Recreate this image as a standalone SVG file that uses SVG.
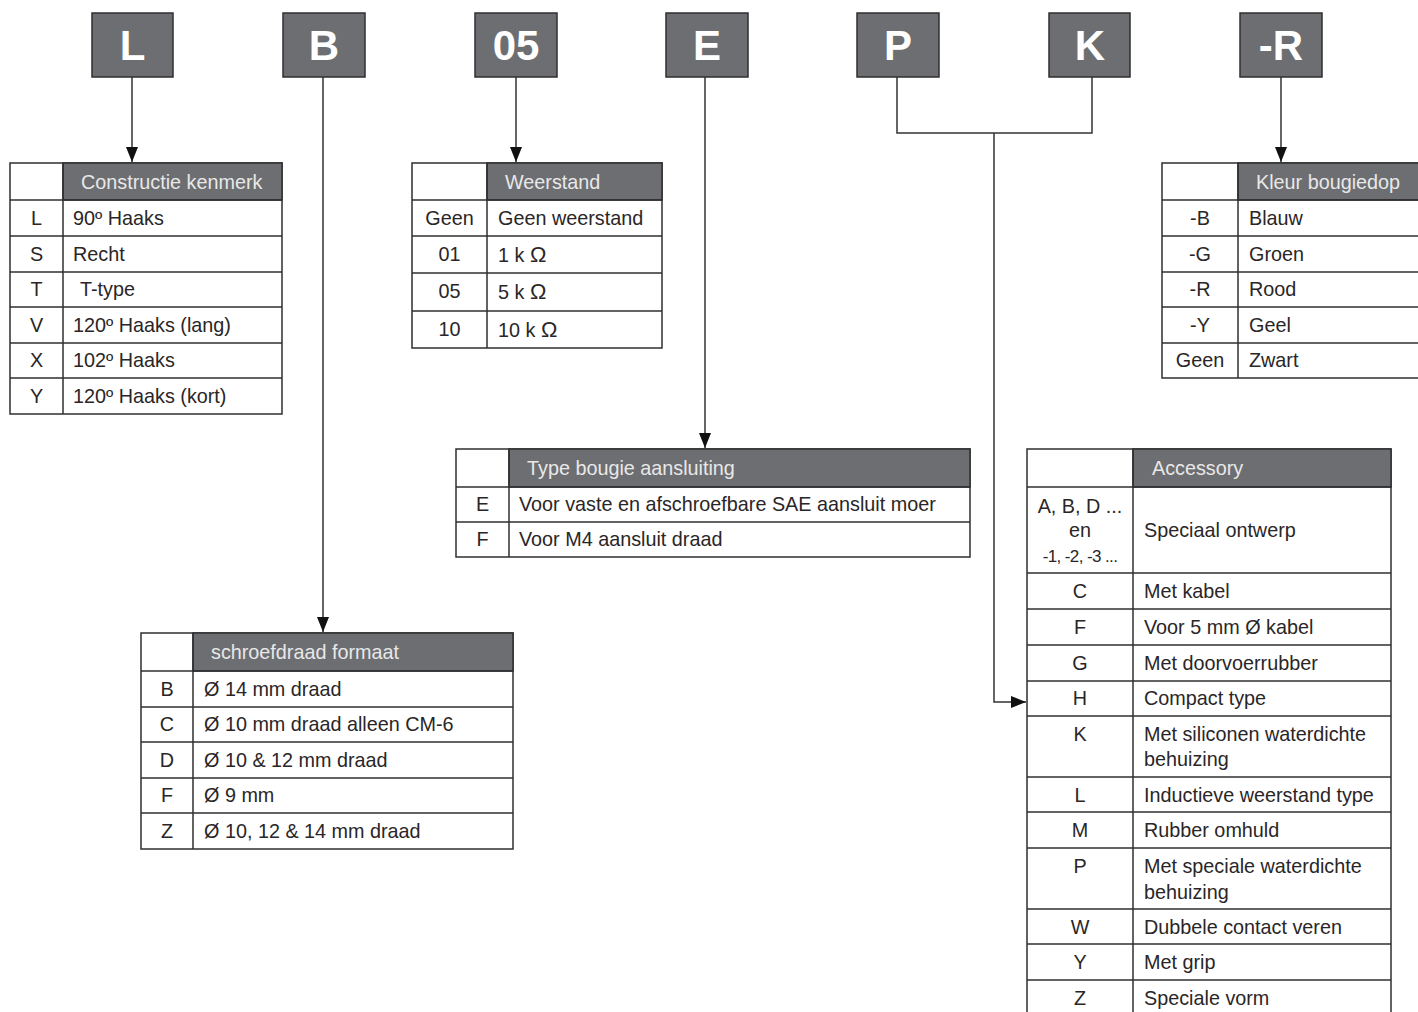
<svg xmlns="http://www.w3.org/2000/svg" width="1418" height="1012" viewBox="0 0 1418 1012">
<style>
.box{fill:#6d6e71;stroke:#2f2f30;stroke-width:1.5}
.bl{font-family:"Liberation Sans",Arial,sans-serif;font-weight:bold;font-size:42px;fill:#ffffff;text-anchor:middle}
.con{fill:none;stroke:#333333;stroke-width:1.5}
.tb{fill:#ffffff;stroke:#2f2f30;stroke-width:1.5}
.hd{fill:#6d6e71;stroke:#2f2f30;stroke-width:1.5}
.ln{stroke:#2f2f30;stroke-width:1.5}
.t{font-family:"Liberation Sans",Arial,sans-serif;font-size:19.8px;fill:#2a2627}
.c{text-anchor:middle}
.h{font-family:"Liberation Sans",Arial,sans-serif;font-size:19.8px;fill:#e8e8e8}
.s{font-size:17px;letter-spacing:-0.6px}
.om{font-size:22px}
</style>
<defs>
<marker id="arr" markerUnits="userSpaceOnUse" markerWidth="15" markerHeight="12" refX="15" refY="6" orient="auto">
<path d="M0,0 L15,6 L0,12 Z" fill="#111111"/>
</marker>
</defs>
<rect width="1418" height="1012" fill="#ffffff"/>

<g id="connectors">
<line class="con" x1="132" y1="77" x2="132" y2="162" marker-end="url(#arr)"/>
<line class="con" x1="323" y1="77" x2="323" y2="632" marker-end="url(#arr)"/>
<line class="con" x1="516" y1="77" x2="516" y2="162" marker-end="url(#arr)"/>
<line class="con" x1="705" y1="77" x2="705" y2="448" marker-end="url(#arr)"/>
<polyline class="con" points="897,77 897,133 1092,133 1092,77"/>
<polyline class="con" points="994,133 994,702 1026,702" marker-end="url(#arr)"/>
<line class="con" x1="1281" y1="77" x2="1281" y2="162" marker-end="url(#arr)"/>
</g>

<g id="box-L"><rect class="box" x="92" y="13" width="81" height="64"/><text class="bl" x="132.5" y="60">L</text></g>
<g id="box-B"><rect class="box" x="283" y="13" width="82" height="64"/><text class="bl" x="324" y="60">B</text></g>
<g id="box-05"><rect class="box" x="475" y="13" width="82" height="64"/><text class="bl" x="516" y="60">05</text></g>
<g id="box-E"><rect class="box" x="666" y="13" width="82" height="64"/><text class="bl" x="707" y="60">E</text></g>
<g id="box-P"><rect class="box" x="857" y="13" width="82" height="64"/><text class="bl" x="898" y="60">P</text></g>
<g id="box-K"><rect class="box" x="1049" y="13" width="81" height="64"/><text class="bl" x="1090" y="60">K</text></g>
<g id="box-R"><rect class="box" x="1240" y="13" width="82" height="64"/><text class="bl" x="1281" y="60">-R</text></g>

<g id="tbl-constructie">
<rect class="tb" x="10" y="163" width="272" height="251"/>
<rect class="hd" x="63" y="163" width="219" height="37"/>
<line class="ln" x1="63" y1="163" x2="63" y2="414"/>
<line class="ln" x1="10" y1="200" x2="282" y2="200"/>
<line class="ln" x1="10" y1="236" x2="282" y2="236"/>
<line class="ln" x1="10" y1="272" x2="282" y2="272"/>
<line class="ln" x1="10" y1="307" x2="282" y2="307"/>
<line class="ln" x1="10" y1="343" x2="282" y2="343"/>
<line class="ln" x1="10" y1="378" x2="282" y2="378"/>
<text class="h" x="81" y="189">Constructie kenmerk</text>
<text class="t c" x="36.5" y="225">L</text><text class="t" x="73" y="225">90º Haaks</text>
<text class="t c" x="36.5" y="261">S</text><text class="t" x="73" y="261">Recht</text>
<text class="t c" x="36.5" y="296">T</text><text class="t" x="80" y="296">T-type</text>
<text class="t c" x="36.5" y="332">V</text><text class="t" x="73" y="332">120º Haaks (lang)</text>
<text class="t c" x="36.5" y="367">X</text><text class="t" x="73" y="367">102º Haaks</text>
<text class="t c" x="36.5" y="403">Y</text><text class="t" x="73" y="403">120º Haaks (kort)</text>
</g>

<g id="tbl-weerstand">
<rect class="tb" x="412" y="163" width="250" height="185"/>
<rect class="hd" x="487" y="163" width="175" height="37"/>
<line class="ln" x1="487" y1="163" x2="487" y2="348"/>
<line class="ln" x1="412" y1="200" x2="662" y2="200"/>
<line class="ln" x1="412" y1="236" x2="662" y2="236"/>
<line class="ln" x1="412" y1="273" x2="662" y2="273"/>
<line class="ln" x1="412" y1="311" x2="662" y2="311"/>
<text class="h" x="505" y="189">Weerstand</text>
<text class="t c" x="449.5" y="225">Geen</text><text class="t" x="498" y="225">Geen weerstand</text>
<text class="t c" x="449.5" y="261">01</text><text class="t" x="498" y="262">1 k <tspan class="om">Ω</tspan></text>
<text class="t c" x="449.5" y="298">05</text><text class="t" x="498" y="299">5 k <tspan class="om">Ω</tspan></text>
<text class="t c" x="449.5" y="336">10</text><text class="t" x="498" y="337">10 k <tspan class="om">Ω</tspan></text>
</g>

<g id="tbl-kleur">
<rect class="tb" x="1162" y="163" width="262" height="215"/>
<rect class="hd" x="1238" y="163" width="186" height="37"/>
<line class="ln" x1="1238" y1="163" x2="1238" y2="378"/>
<line class="ln" x1="1162" y1="200" x2="1424" y2="200"/>
<line class="ln" x1="1162" y1="236" x2="1424" y2="236"/>
<line class="ln" x1="1162" y1="272" x2="1424" y2="272"/>
<line class="ln" x1="1162" y1="307" x2="1424" y2="307"/>
<line class="ln" x1="1162" y1="343" x2="1424" y2="343"/>
<text class="h" x="1256" y="189">Kleur bougiedop</text>
<text class="t c" x="1200" y="225">-B</text><text class="t" x="1249" y="225">Blauw</text>
<text class="t c" x="1200" y="261">-G</text><text class="t" x="1249" y="261">Groen</text>
<text class="t c" x="1200" y="296">-R</text><text class="t" x="1249" y="296">Rood</text>
<text class="t c" x="1200" y="332">-Y</text><text class="t" x="1249" y="332">Geel</text>
<text class="t c" x="1200" y="367">Geen</text><text class="t" x="1249" y="367">Zwart</text>
</g>

<g id="tbl-type">
<rect class="tb" x="456" y="449" width="514" height="108"/>
<rect class="hd" x="509" y="449" width="461" height="38"/>
<line class="ln" x1="509" y1="449" x2="509" y2="557"/>
<line class="ln" x1="456" y1="487" x2="970" y2="487"/>
<line class="ln" x1="456" y1="522" x2="970" y2="522"/>
<text class="h" x="527" y="475">Type bougie aansluiting</text>
<text class="t c" x="482.5" y="511">E</text><text class="t" x="519" y="511">Voor vaste en afschroefbare SAE aansluit moer</text>
<text class="t c" x="482.5" y="546">F</text><text class="t" x="519" y="546">Voor M4 aansluit draad</text>
</g>

<g id="tbl-schroefdraad">
<rect class="tb" x="141" y="633" width="372" height="216"/>
<rect class="hd" x="193" y="633" width="320" height="38"/>
<line class="ln" x1="193" y1="633" x2="193" y2="849"/>
<line class="ln" x1="141" y1="671" x2="513" y2="671"/>
<line class="ln" x1="141" y1="707" x2="513" y2="707"/>
<line class="ln" x1="141" y1="742" x2="513" y2="742"/>
<line class="ln" x1="141" y1="778" x2="513" y2="778"/>
<line class="ln" x1="141" y1="813" x2="513" y2="813"/>
<text class="h" x="211" y="659">schroefdraad formaat</text>
<text class="t c" x="167" y="696">B</text><text class="t" x="204" y="696">Ø 14 mm draad</text>
<text class="t c" x="167" y="731">C</text><text class="t" x="204" y="731">Ø 10 mm draad alleen CM-6</text>
<text class="t c" x="167" y="767">D</text><text class="t" x="204" y="767">Ø 10 &amp; 12 mm draad</text>
<text class="t c" x="167" y="802">F</text><text class="t" x="204" y="802">Ø 9 mm</text>
<text class="t c" x="167" y="838">Z</text><text class="t" x="204" y="838">Ø 10, 12 &amp; 14 mm draad</text>
</g>

<g id="tbl-accessory">
<rect class="tb" x="1027" y="449" width="364" height="570"/>
<rect class="hd" x="1133" y="449" width="258" height="38"/>
<line class="ln" x1="1133" y1="449" x2="1133" y2="1019"/>
<line class="ln" x1="1027" y1="487" x2="1391" y2="487"/>
<line class="ln" x1="1027" y1="573" x2="1391" y2="573"/>
<line class="ln" x1="1027" y1="609" x2="1391" y2="609"/>
<line class="ln" x1="1027" y1="645" x2="1391" y2="645"/>
<line class="ln" x1="1027" y1="681" x2="1391" y2="681"/>
<line class="ln" x1="1027" y1="716" x2="1391" y2="716"/>
<line class="ln" x1="1027" y1="777" x2="1391" y2="777"/>
<line class="ln" x1="1027" y1="812" x2="1391" y2="812"/>
<line class="ln" x1="1027" y1="848" x2="1391" y2="848"/>
<line class="ln" x1="1027" y1="909" x2="1391" y2="909"/>
<line class="ln" x1="1027" y1="944" x2="1391" y2="944"/>
<line class="ln" x1="1027" y1="980" x2="1391" y2="980"/>
<text class="h" x="1152" y="475">Accessory</text>
<text class="t c" x="1080" y="513">A, B, D ...</text>
<text class="t c" x="1080" y="537">en</text>
<text class="t c s" x="1080" y="562">-1, -2, -3 ...</text>
<text class="t" x="1144" y="537">Speciaal ontwerp</text>
<text class="t c" x="1080" y="598">C</text><text class="t" x="1144" y="598">Met kabel</text>
<text class="t c" x="1080" y="634">F</text><text class="t" x="1144" y="634">Voor 5 mm Ø kabel</text>
<text class="t c" x="1080" y="670">G</text><text class="t" x="1144" y="670">Met doorvoerrubber</text>
<text class="t c" x="1080" y="705">H</text><text class="t" x="1144" y="705">Compact type</text>
<text class="t c" x="1080" y="741">K</text><text class="t" x="1144" y="741">Met siliconen waterdichte</text>
<text class="t" x="1144" y="766">behuizing</text>
<text class="t c" x="1080" y="802">L</text><text class="t" x="1144" y="802">Inductieve weerstand type</text>
<text class="t c" x="1080" y="837">M</text><text class="t" x="1144" y="837">Rubber omhuld</text>
<text class="t c" x="1080" y="873">P</text><text class="t" x="1144" y="873">Met speciale waterdichte</text>
<text class="t" x="1144" y="899">behuizing</text>
<text class="t c" x="1080" y="934">W</text><text class="t" x="1144" y="934">Dubbele contact veren</text>
<text class="t c" x="1080" y="969">Y</text><text class="t" x="1144" y="969">Met grip</text>
<text class="t c" x="1080" y="1005">Z</text><text class="t" x="1144" y="1005">Speciale vorm</text>
</g>
</svg>
